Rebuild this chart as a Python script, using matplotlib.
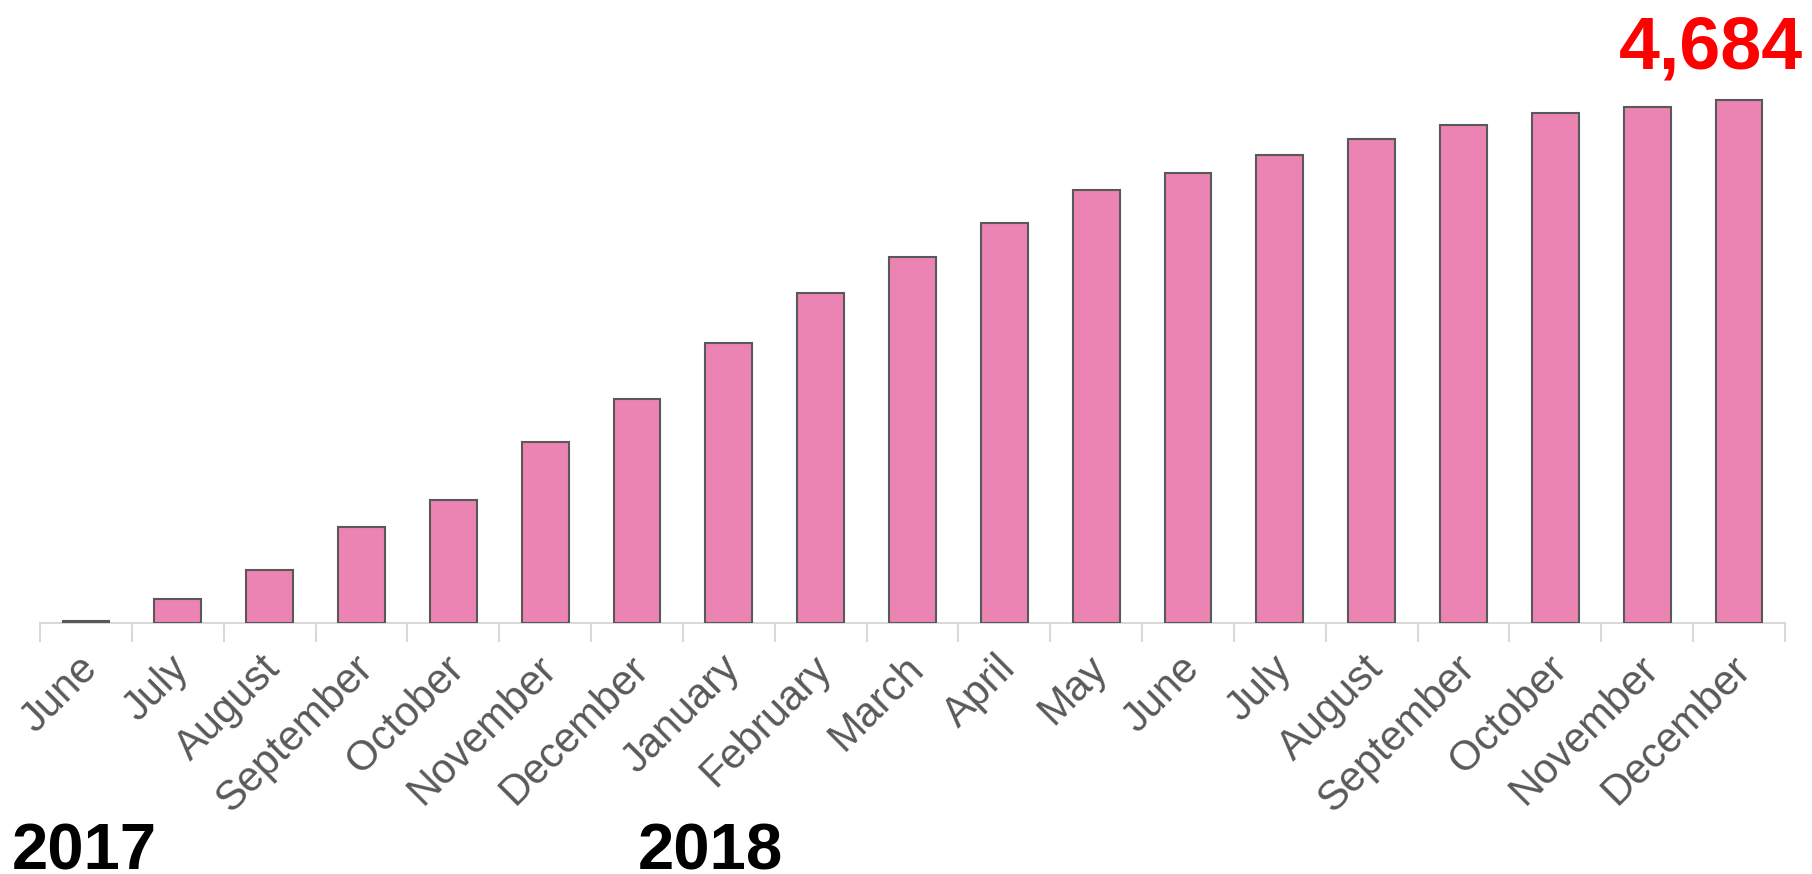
import matplotlib.pyplot as plt
import matplotlib.transforms as mtransforms
import numpy as np

months = ["June", "July", "August", "September", "October", "November", "December",
          "January", "February", "March", "April", "May", "June", "July", "August",
          "September", "October", "November", "December"]
totals = [15, 218, 477, 860, 1098, 1617, 2010, 2508, 2953, 3275, 3585, 3876,
          4031, 4187, 4332, 4456, 4570, 4624, 4684]

plt.rcParams['font.family'] = ['Liberation Sans', 'DejaVu Sans']

W, H = 1812, 874
fig = plt.figure(figsize=(W / 100, H / 100), dpi=100)
base_y = 623
ax = fig.add_axes([40 / W, (H - base_y) / H, (1785 - 40) / W, base_y / H])

x = np.arange(len(months))
ax.bar(x, totals, width=0.51, color="#EB84B3", edgecolor="#595959", linewidth=1.5, zorder=3)

ax.set_xlim(-0.5, len(months) - 0.5)
ax.set_ylim(0, totals[-1] * base_y / 523)

for s in ["top", "right", "left"]:
    ax.spines[s].set_visible(False)
ax.spines["bottom"].set_color("#d9d9d9")
ax.spines["bottom"].set_linewidth(1.5)
ax.set_yticks([])

# ticks between categories, labels at centers
ax.set_xticks(np.arange(len(months) + 1) - 0.5, minor=False)
ax.set_xticklabels([])
ax.tick_params(axis="x", which="major", length=14, width=1.5, color="#d9d9d9")
ax.set_xticks(x, minor=True)
ax.set_xticklabels(months, minor=True, rotation=45, ha="right", va="top",
                   rotation_mode="anchor", fontsize=30, color="#595959")
ax.tick_params(axis="x", which="minor", length=0, pad=18)
shift = mtransforms.ScaledTranslation(-0.09, 0, fig.dpi_scale_trans)
for lbl in ax.get_xticklabels(minor=True):
    lbl.set_transform(lbl.get_transform() + shift)

fig.text(12 / W, 5 / H, "2017", fontsize=47, fontweight="bold", color="black",
         ha="left", va="baseline")
fig.text(638 / W, 5 / H, "2018", fontsize=47, fontweight="bold", color="black",
         ha="left", va="baseline")
fig.text(1803 / W, (H - 68) / H, "{:,}".format(totals[-1]), fontsize=53,
         fontweight="bold", color="#FF0000", ha="right", va="baseline")

fig.savefig("out.png", dpi=100)
